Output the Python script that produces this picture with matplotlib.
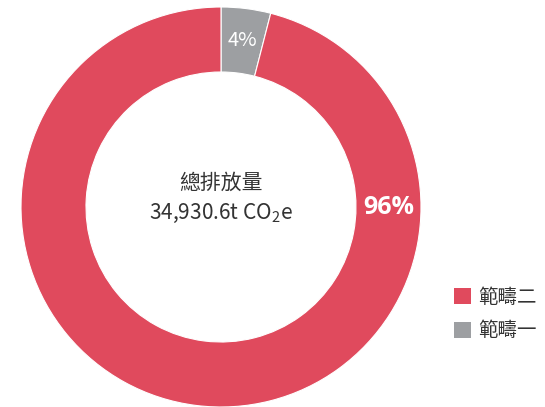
import matplotlib
matplotlib.use("Agg")
import matplotlib.pyplot as plt
from matplotlib.patches import Patch
import numpy as np

categories = ["範疇一", "範疇二"]
values = [4, 96]
pct_labels = ["4%", "96%"]
total_title = "總排放量"
total_value = r"34,930.6t CO$_\mathregular{2}$e"
legend_order = ["範疇二", "範疇一"]

colors = {"範疇一": "#9D9FA2", "範疇二": "#E04A5D"}
fam = ["Noto Sans CJK TC", "DejaVu Sans"]
plt.rcParams["font.family"] = fam
plt.rcParams["mathtext.fontset"] = "custom"
plt.rcParams["mathtext.rm"] = "Noto Sans CJK TC"
plt.rcParams["mathtext.it"] = "Noto Sans CJK TC"

W, H = 545, 407
fig = plt.figure(figsize=(W / 100, H / 100), dpi=100)
ax = fig.add_axes([0, 0, 1, 1])
cx, cy = 221, 207
R, r_in = 200, 135

wedges, _ = ax.pie(values, colors=[colors[c] for c in categories],
                   startangle=90, counterclock=False, radius=R,
                   wedgeprops=dict(width=R - r_in, edgecolor="white", linewidth=0.8))
ax.set_xlim(-cx, W - cx)
ax.set_ylim(-(H - cy), cy)
ax.set_aspect("equal")
ax.axis("off")

# percentage labels inside the ring
mid = (R + r_in) / 2
ang1 = np.deg2rad(90 - 360 * values[0] / 100 / 2)
ax.text(mid * np.cos(ang1), mid * np.sin(ang1), pct_labels[0], color="white",
        fontsize=14.5, ha="center", va="center")
ax.text(mid, 0, pct_labels[1], color="white", fontsize=18, fontweight="bold",
        ha="center", va="center", family=["Open Sans", "DejaVu Sans"])

# center text
ax.text(0, 24, total_title, fontsize=15, color="#333333", ha="center", va="center")
ax.text(0, -6, total_value, fontsize=15, color="#333333", ha="center", va="center")

handles = [Patch(facecolor=colors[c], edgecolor="none") for c in legend_order]
fig.legend(handles, legend_order, loc="upper left", bbox_to_anchor=(448 / W, 1 - 281 / H),
           frameon=False, fontsize=14, handlelength=0.875, handleheight=0.875,
           handletextpad=0.4, labelspacing=0.65, labelcolor="#333333",
           borderpad=0.3, borderaxespad=0)

fig.savefig("out.png", dpi=100)
